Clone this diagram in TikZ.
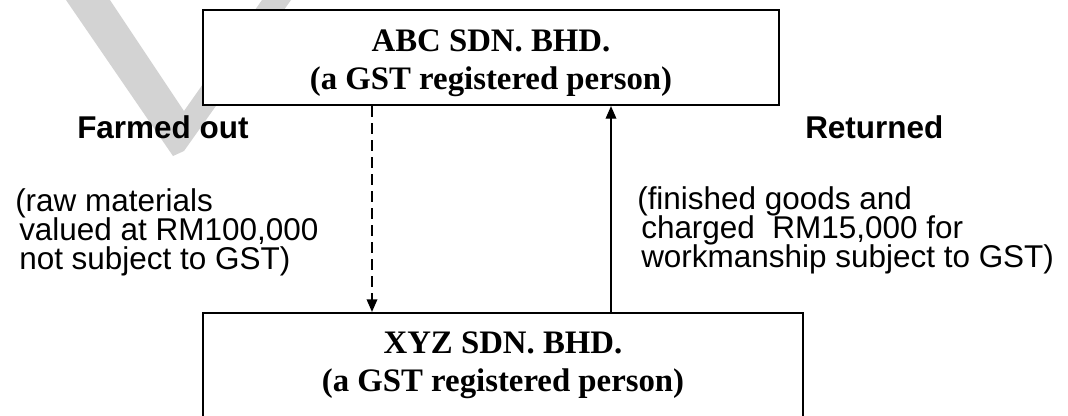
\documentclass[tikz,border=0pt]{standalone}
\usepackage{fontspec}
\setmainfont{Liberation Serif}
\setsansfont{Liberation Sans}
\usetikzlibrary{arrows.meta}
\definecolor{wm}{RGB}{211,211,211}
\newcommand{\twolines}[2]{\vtop{\lineskiplimit=-\maxdimen\hbox to 0pt{\hss#1\hss}\hbox to 0pt{\hss#2\hss}}}
\newcommand{\threelines}[3]{\vtop{\lineskiplimit=-\maxdimen\hbox{#1}\hbox{#2}\hbox{#3}}}
\begin{document}
\begin{tikzpicture}[x=0.75pt,y=-0.75pt,
  firm/.style={draw, line width=1.6pt, fill=white, inner sep=0pt, font=\fontsize{24.6pt}{28.7pt}\selectfont\bfseries},
  head/.style={anchor=base west, inner sep=0pt, font=\sffamily\bfseries\fontsize{23.6pt}{22pt}\selectfont},
  note/.style={anchor=base west, inner sep=0pt, font=\sffamily\fontsize{23.6pt}{22.1pt}\selectfont},
  flow/.style={line width=1.1pt, -{Triangle[width=8pt,length=9.5pt]}},
  ]
\useasboundingbox (0,0) rectangle (1068,415);
\clip (0,0) rectangle (1068,415);
\fill[wm] (66,0) -- (173,156) -- (184,151) -- (291,0) -- (262,0) -- (184,111) -- (110,0) -- cycle;
\node[firm, minimum width=432pt, text height=30.75pt, text depth=40.5pt, anchor=base] (abc) at (491,51) {\twolines{ABC SDN. BHD.}{(a GST registered person)}};
\node[firm, minimum width=450pt, text height=30pt, text depth=54pt, anchor=base] (xyz) at (503,353) {\twolines{XYZ SDN. BHD.}{(a GST registered person)}};
\coordinate (dx) at (372,0);
\coordinate (ux) at (611,0);
\draw[flow, dash pattern=on 8.25pt off 4.5pt] (dx |- abc.south) -- (dx |- xyz.north);
\draw[flow] (ux |- xyz.north) -- (ux |- abc.south);
\node[head] (farm) at (77,138) {Farmed out};
\node[head] (ret) at (805,138) {Returned};
\node[note] (raw) at (15,211) {\threelines{(raw materials}{\hspace*{3pt}valued at RM100,000}{\hspace*{3pt}not subject to GST)}};
\node[note] (fin) at (637,209) {\threelines{(finished goods and}{\hspace*{3pt}charged~~RM15,000 for}{\hspace*{3pt}workmanship subject to GST)}};
\end{tikzpicture}
\end{document}
